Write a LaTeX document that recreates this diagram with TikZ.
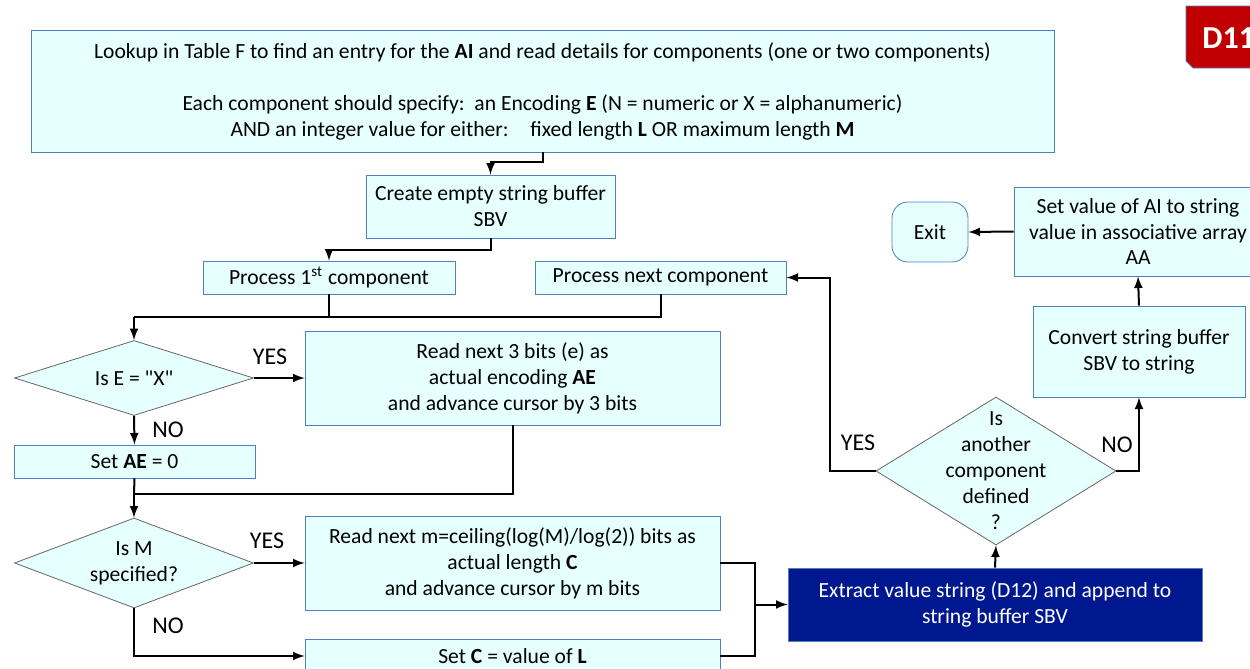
\documentclass[tikz,border=0pt]{standalone}
\usepackage{fontspec}
\setmainfont{Carlito}
\usetikzlibrary{shapes.geometric,arrows}
\definecolor{boxfill}{RGB}{230,255,255}
\definecolor{boxline}{RGB}{79,129,189}
\definecolor{darkfill}{RGB}{0,24,143}
\definecolor{tabred}{RGB}{192,0,0}
\begin{document}
\begin{tikzpicture}[x=0.5pt, y=-0.5pt, >=latex,
  every node/.style={font=\fontsize{10.8}{13}\selectfont},
  box/.style={draw=boxline, fill=boxfill, align=center, inner sep=0pt},
  dark/.style={draw=boxline, fill=darkfill, text=white, align=center, inner sep=0pt},
  dia/.style={diamond, draw=black!60, fill=boxfill, inner sep=0pt},
  qtext/.style={align=center},
  yesno/.style={font=\fontsize{12}{14}\selectfont},
  flow/.style={line width=1pt}]
  \useasboundingbox (0,0) rectangle (1250,669);
  % boxes
  \node[box, minimum width=511.5pt, minimum height=61pt] (lookup) at (542.5,91)
    {Lookup in Table F to find an entry for the \textbf{AI} and read details for components (one or two components)\\[13pt]
     Each component should specify:\ \ an Encoding \textbf{E} (N = numeric or X = alphanumeric)\\
     AND an integer value for either:\quad fixed length \textbf{L} OR maximum length \textbf{M}};
  \node[box, minimum width=124.5pt, minimum height=31.5pt] (sbv) at (490.5,206.5) {Create empty string buffer\\SBV};
  \node[box, minimum width=126pt, minimum height=16.5pt] (first) at (329,277.5) {Process 1\textsuperscript{st} component};
  \node[box, minimum width=125.5pt, minimum height=16.5pt] (next) at (660.5,277.5) {Process next component};
  \node[box, minimum width=207.5pt, minimum height=47pt] (readae) at (512.5,378) {Read next 3 bits (e) as\\actual encoding \textbf{AE}\\and advance cursor by 3 bits};
  \node[box, minimum width=120.5pt, minimum height=16.5pt] (setae) at (134.5,461.5) {Set \textbf{AE} = 0};
  \node[box, minimum width=207.5pt, minimum height=47pt] (readc) at (512.5,563) {Read next m=ceiling(log(M)/log(2)) bits as\\actual length \textbf{C}\\and advance cursor by m bits};
  \node[box, minimum width=207.5pt, minimum height=17pt] (setc) at (512.5,656) {Set \textbf{C} = value of \textbf{L}};
  \node[dark, minimum width=207pt, minimum height=36.5pt] (extract) at (995,604.5) {Extract value string (D12) and append to\\string buffer SBV};
  \node[box, minimum width=106pt, minimum height=45.5pt] (convert) at (1139,351.5) {Convert string buffer\\SBV to string};
  \node[box, minimum width=124pt, minimum height=44.5pt] (setai) at (1138,231.5) {Set value of AI to string\\value in associative array\\AA};
  \node[box, rounded corners=8pt, minimum width=38pt, minimum height=30pt] (exit) at (930,232) {Exit};
  % decisions
  \node[dia, minimum width=119.5pt, minimum height=37.5pt] (isE) at (134,378) {};
  \node[qtext] (isEtxt) at (isE) {Is E = \textquotedbl X\textquotedbl};
  \node[dia, minimum width=119.5pt, minimum height=45pt] (isM) at (134,563) {};
  \node[qtext] (isMtxt) at (isM) {Is M\\specified?};
  \node[dia, minimum width=120pt, minimum height=74pt] (more) at (996,471) {};
  \node[qtext] (moretxt) at (more) {Is\\another\\component\\defined\\?};
  % tab
  \draw[fill=tabred, draw=boxline] (1186,6) -- (1262,6) -- (1262,68) -- (1193,68) -- (1186,61) -- cycle;
  \node[font=\fontsize{16}{18}\selectfont\bfseries, text=white, anchor=west, inner sep=0pt] (tab) at (1202,38) {D11};
  % joints
  \coordinate (j1) at (134,317);
  \coordinate (j2) at (134,494);
  \coordinate (j3) at (755,604.5);
  \coordinate (back) at (830,277.5);
  % connectors
  \draw[flow,->] (lookup.south) -- ++(0,10) -| (sbv.north);
  \draw[flow,->] (sbv.south) -- ++(0,12) -| (first.north);
  \draw[flow] (next.south) |- (j1);
  \draw[flow] (first.south) -- (first.south |- j1);
  \draw[flow,->] (j1) -- (isE.north);
  \draw[flow,->] (isE.east) -- (readae.west);
  \draw[flow,->] (isE.south) -- (setae.north);
  \draw[flow] (readae.south) |- (j2);
  \draw[flow] (setae.south) -- (j2);
  \draw[flow,->] (j2) -- (isM.north);
  \draw[flow,->] (isM.east) -- (readc.west);
  \draw[flow,->] (isM.south) |- (setc.west);
  \draw[flow] (readc.east) -| (j3);
  \draw[flow] (setc.east) -| (j3);
  \draw[flow,->] (j3) -- (extract.west);
  \draw[flow,->] (extract.north) -- (more.south);
  \draw[flow,->] (more.west) -| (back) -- (next.east);
  \draw[flow,->] (more.east) -| (convert.south);
  \draw[flow,->] (convert.north) -- (setai.south);
  \draw[flow,->] (setai.west) -- (exit.east);
  % labels
  \node[yesno] (yes1) at (270,357) {YES};
  \node[yesno] (no1) at (168,430) {NO};
  \node[yesno] (yes2) at (267,541) {YES};
  \node[yesno] (no2) at (168,626) {NO};
  \node[yesno] (yes3) at (858,443) {YES};
  \node[yesno] (no3) at (1117,445) {NO};
\end{tikzpicture}
\end{document}
